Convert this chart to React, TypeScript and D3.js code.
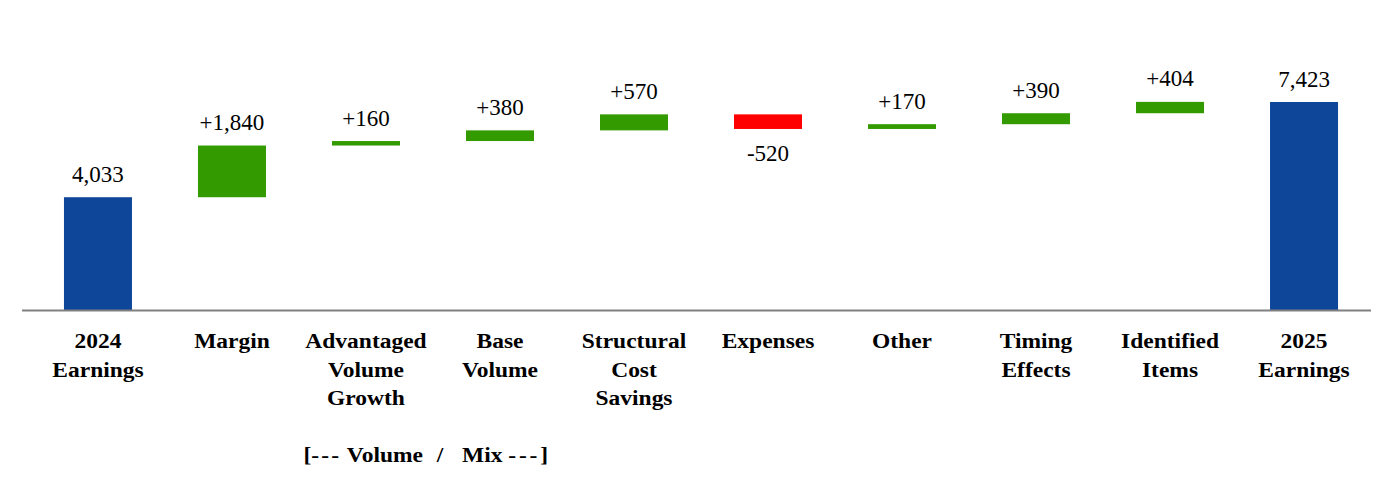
import React from "react";
import * as d3 from "d3";

const categories: string[] = [
  "2024 Earnings",
  "Margin",
  "Advantaged Volume Growth",
  "Base Volume",
  "Structural Cost Savings",
  "Expenses",
  "Other",
  "Timing Effects",
  "Identified Items",
  "2025 Earnings",
];

const categoryLines: string[][] = [
  ["2024", "Earnings"],
  ["Margin"],
  ["Advantaged", "Volume", "Growth"],
  ["Base", "Volume"],
  ["Structural", "Cost", "Savings"],
  ["Expenses"],
  ["Other"],
  ["Timing", "Effects"],
  ["Identified", "Items"],
  ["2025", "Earnings"],
];

// kind: total bars start from zero, delta bars float
const kinds: string[] = [
  "total", "delta", "delta", "delta", "delta", "delta", "delta", "delta", "delta", "total",
];

const values: number[] = [4033, 1840, 160, 380, 570, -520, 170, 390, 404, 7423];

const groupNote = { word1: "Volume", mid: "/", word2: "Mix", dashes: "---" };

const COLORS = { total: "#0E4699", up: "#339A00", down: "#FF0000", axis: "#808080" };

export default function App() {
  const W = 1400;
  const H = 500;

  const x = d3
    .scaleBand<string>()
    .domain(categories)
    .range([31, 1371])
    .paddingInner(0.4925)
    .paddingOuter(0.246);

  const y = d3.scaleLinear().domain([0, 7423]).range([310.5, 102]);

  let running = 0;
  const segs = categories.map((c, i) => {
    const v = values[i];
    let start: number, end: number;
    if (kinds[i] === "total") {
      start = 0;
      end = v;
      running = v;
    } else {
      start = running;
      end = running + v;
      running = end;
    }
    return { c, i, v, start, end, kind: kinds[i] };
  });

  const fmt = d3.format(",");
  const labelText = (s: { v: number; kind: string }) =>
    s.kind === "total" ? fmt(s.v) : (s.v < 0 ? "-" : "+") + fmt(Math.abs(s.v));

  const bw = x.bandwidth();
  const lineH = 28.3;
  const catY0 = 348.3;

  const xa = x("Advantaged Volume Growth")! + bw / 2;
  const xb = x("Base Volume")! + bw / 2;
  const slashX = (xa + xb) / 2 + 7;

  const catFont = {
    fontFamily: "'Liberation Serif', 'Times New Roman', serif",
    fontWeight: 700 as const,
    fontSize: 23.5,
  };

  return (
    <svg
      width={W}
      height={H}
      style={{ position: "absolute", left: 0, top: 0, background: "#fff" }}
    >
      <rect x={0} y={0} width={W} height={H} fill="#fff" />
      {segs.map((s) => {
        const top = y(Math.max(s.start, s.end));
        const bot = y(Math.min(s.start, s.end));
        const fill = s.kind === "total" ? COLORS.total : s.v >= 0 ? COLORS.up : COLORS.down;
        return (
          <rect
            key={"b" + s.i}
            x={x(s.c)!}
            y={top}
            width={bw}
            height={Math.max(1, bot - top)}
            fill={fill}
          />
        );
      })}
      <line x1={22} x2={1371} y1={y(0)} y2={y(0)} stroke={COLORS.axis} strokeWidth={2} />
      {segs.map((s) => {
        const cx = x(s.c)! + bw / 2;
        const neg = s.kind !== "total" && s.v < 0;
        const ty = neg ? y(Math.min(s.start, s.end)) + 32 : y(Math.max(s.start, s.end)) - 15.5;
        return (
          <text
            key={"v" + s.i}
            x={cx}
            y={ty}
            textAnchor="middle"
            fontFamily="'Liberation Serif', 'Times New Roman', serif"
            fontSize={23}
            fill="#000"
          >
            {labelText(s)}
          </text>
        );
      })}
      {categories.map((c, i) => {
        const cx = x(c)! + bw / 2;
        return categoryLines[i].map((ln, j) => (
          <text
            key={"c" + i + "-" + j}
            transform={`translate(${cx},${catY0 + j * lineH}) scale(1,0.85)`}
            textAnchor="middle"
            style={catFont}
            fill="#000"
          >
            {ln}
          </text>
        ));
      })}
      <g>
        <text
          transform={`translate(${slashX - 17},${catY0 + 4 * lineH}) scale(1,0.85)`}
          textAnchor="end"
          style={catFont}
          fill="#000"
        >
          [<tspan letterSpacing={2.2}>{groupNote.dashes}</tspan> {groupNote.word1}
        </text>
        <text
          transform={`translate(${slashX},${catY0 + 4 * lineH}) scale(1,0.85)`}
          textAnchor="middle"
          style={catFont}
          fill="#000"
        >
          {groupNote.mid}
        </text>
        <text
          transform={`translate(${slashX + 22},${catY0 + 4 * lineH}) scale(1,0.85)`}
          textAnchor="start"
          style={catFont}
          fill="#000"
        >
          {groupNote.word2} <tspan letterSpacing={2.8}>{groupNote.dashes}</tspan>]
        </text>
      </g>
    </svg>
  );
}
